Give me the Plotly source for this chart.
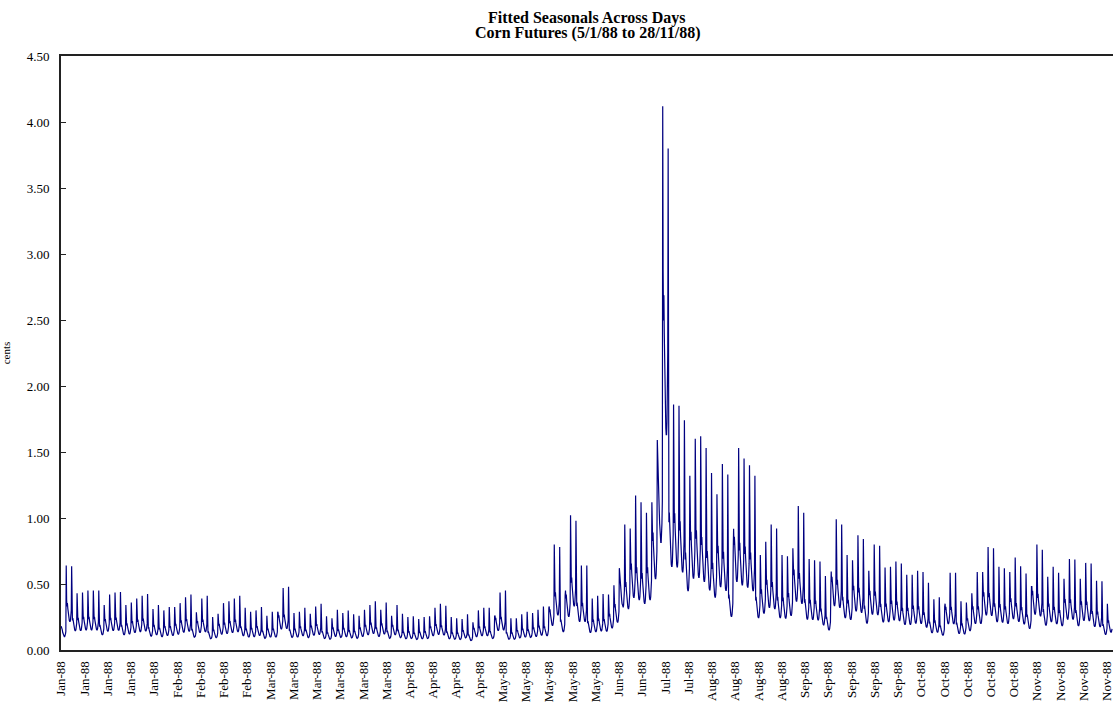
import plotly.graph_objects as go

# Chart text
title_lines = ["Fitted Seasonals Across Days", "Corn Futures (5/1/88 to 28/11/88)"]
y_title = "cents"

# Normalised intraday seasonal over the 14 intervals of a session (closing interval = 1)
intraday_factor = [0.60, 0.52, 0.56, 0.50, 0.44, 0.40, 0.37, 0.35, 0.34, 0.34, 0.36, 0.40, 0.47, 1.00]

# Fitted seasonal at the closing interval of each session (cents)
session_peak = [
    0.64, 0.635, 0.43, 0.435, 0.45, 0.45, 0.45, 0.34, 0.42, 0.435,
    0.44, 0.34, 0.36, 0.39, 0.41, 0.425, 0.31, 0.34, 0.30, 0.325,
    0.325, 0.355, 0.40, 0.42, 0.285, 0.39, 0.41, 0.25, 0.275, 0.355,
    0.37, 0.39, 0.41, 0.32, 0.29, 0.30, 0.325, 0.26, 0.29, 0.29,
    0.47, 0.48, 0.28, 0.29, 0.32, 0.275, 0.33, 0.35, 0.255, 0.24,
    0.305, 0.28, 0.30, 0.27, 0.26, 0.305, 0.34, 0.37, 0.305, 0.36,
    0.26, 0.34, 0.275, 0.25, 0.255, 0.235, 0.25, 0.255, 0.32, 0.35,
    0.335, 0.25, 0.24, 0.235, 0.27, 0.21, 0.30, 0.32, 0.32, 0.255,
    0.435, 0.45, 0.24, 0.24, 0.27, 0.29, 0.28, 0.305, 0.33, 0.32,
    0.80, 0.78, 0.41, 1.02, 0.98, 0.64, 0.64, 0.39, 0.41, 0.425,
    0.42, 0.49, 0.62, 0.95, 0.92, 1.17, 1.12, 1.04, 1.12, 1.59,
    4.12, 3.80, 1.86, 1.85, 1.74, 1.32, 1.60, 1.62, 1.53, 1.34,
    1.18, 1.41, 1.33, 0.75, 1.53, 1.45, 1.40, 1.32, 0.72, 0.82,
    0.95, 0.92, 0.72, 0.71, 0.77, 1.09, 1.04, 0.69, 0.68, 0.67,
    0.56, 0.45, 0.99, 0.95, 0.72, 0.68, 0.87, 0.84, 0.60, 0.80,
    0.79, 0.625, 0.63, 0.67, 0.655, 0.57, 0.57, 0.60, 0.59, 0.51,
    0.385, 0.40, 0.33, 0.585, 0.585, 0.37, 0.36, 0.43, 0.59, 0.59,
    0.78, 0.77, 0.63, 0.62, 0.59, 0.70, 0.635, 0.58, 0.48, 0.80,
    0.76, 0.555, 0.63, 0.585, 0.54, 0.69, 0.685, 0.54, 0.66, 0.655,
    0.525, 0.52, 0.35, 0.40,
]

# Sessions whose pre-close intervals sit at a different level from their closing spike
session_level_adjust = {0: 0.30, 90: 0.55, 93: 0.75, 110: 2.40, 111: 4.80}

# Category labels shown every 60 intervals
tick_labels = (
    ["Jan-88"] * 5 + ["Feb-88"] * 4 + ["Mar-88"] * 6 + ["Apr-88"] * 4
    + ["May-88"] * 5 + ["Jun-88"] * 2 + ["Jul-88"] * 2 + ["Aug-88"] * 4
    + ["Sep-88"] * 5 + ["Oct-88"] * 5 + ["Nov-88"] * 4
)
label_step = 60

# The last session in the sample stops before its final two intervals
last_session_missing = 2

intervals = len(intraday_factor)
values = []
for day, peak in enumerate(session_peak):
    level = session_level_adjust.get(day, peak)
    for k, f in enumerate(intraday_factor):
        values.append(peak if k == intervals - 1 else level * f)
values = values[: len(values) - last_session_missing]
x_index = list(range(len(values)))
total_slots = len(session_peak) * intervals

serif = "Liberation Serif, Times New Roman, serif"

fig = go.Figure(
    go.Scatter(
        x=x_index,
        y=values,
        mode="lines",
        line=dict(color="#000080", width=1.2),
        hoverinfo="skip",
        showlegend=False,
    )
)

plot_top, plot_bottom = 56, 654
plot_h = plot_bottom - plot_top

annotations = []
for line, centre in zip(title_lines, [18, 33]):
    annotations.append(
        dict(
            text="<b>" + line + "</b>",
            xref="paper",
            yref="paper",
            x=0.5,
            y=1 + (plot_top - centre) / plot_h,
            xanchor="center",
            yanchor="middle",
            showarrow=False,
            font=dict(family=serif, size=16, color="black"),
        )
    )

fig.update_layout(
    width=1114,
    height=702,
    margin=dict(l=61, r=0, t=plot_top, b=702 - plot_bottom),
    paper_bgcolor="white",
    plot_bgcolor="white",
    font=dict(family=serif, color="black", size=13),
    annotations=annotations,
)

fig.update_xaxes(
    range=[-0.5, total_slots - 0.5],
    tickmode="array",
    tickvals=list(range(0, label_step * len(tick_labels), label_step)),
    ticktext=tick_labels,
    tickangle=-90,
    ticks="",
    ticklabelstandoff=4,
    ticklabeloverflow="allow",
    showgrid=False,
    zeroline=False,
    showline=True,
    linecolor="#222222",
    linewidth=2,
    mirror=True,
    tickfont=dict(family=serif, size=13),
)

fig.update_yaxes(
    range=[0, 4.5],
    dtick=0.5,
    tick0=0,
    tickformat=".2f",
    ticks="inside",
    ticklen=5,
    tickcolor="#222222",
    ticklabelstandoff=7,
    showgrid=False,
    zeroline=False,
    showline=True,
    linecolor="#222222",
    linewidth=2,
    tickfont=dict(family=serif, size=13),
    title=dict(text=y_title, font=dict(family=serif, size=11), standoff=14),
)

fig.write_html("out.html")
